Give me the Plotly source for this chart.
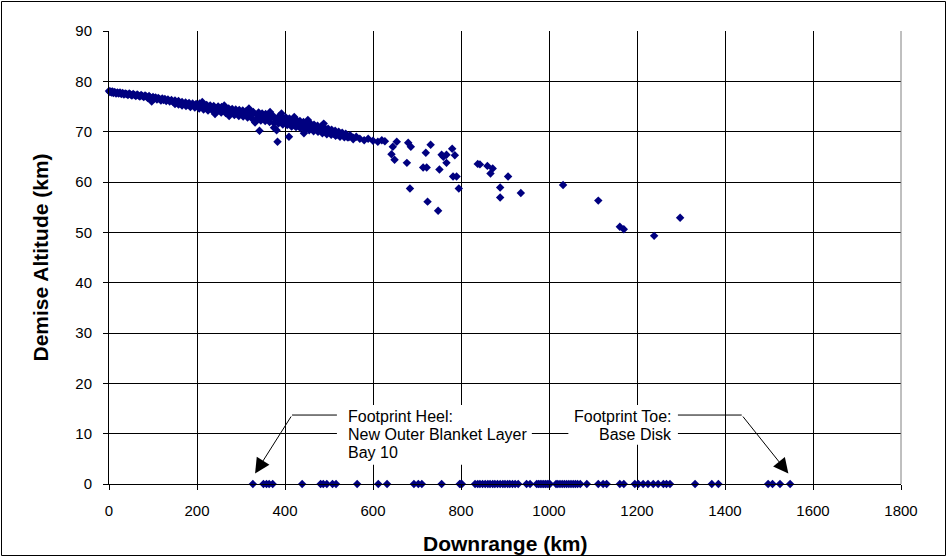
import plotly.graph_objects as go

# ---- data ----
# dense debris band + scattered fragments (downrange km, demise altitude km)
band_downrange = [0, 2, 4, 6, 8, 10, 13, 16, 19, 22, 25, 28, 31, 34, 37, 40, 43, 46, 49, 52,
                  55, 58, 61, 64, 67, 70, 73, 76, 79, 82, 85, 88, 91, 94, 97, 100, 103, 106, 109, 112,
                  115, 118, 121, 124, 127, 130, 134, 138, 142, 146, 150, 154, 158, 162, 166, 170, 174, 178, 182, 186,
                  190, 194, 198, 202, 206, 210, 214, 218, 222, 226, 230, 234, 238, 241, 244, 248, 252, 256, 260, 264,
                  268, 272, 273, 276, 280, 284, 288, 292, 296, 300, 304, 308, 312, 316, 320, 324, 328, 332, 336, 340,
                  342, 344, 348, 352, 356, 360, 364, 368, 372, 375, 378, 381, 383, 386, 390, 394, 398, 402, 406, 409,
                  410, 414, 418, 422, 426, 430, 434, 438, 442, 443, 446, 450, 454, 458, 462, 466, 470, 474, 478, 482,
                  486, 490, 494, 498, 502, 506, 510, 514, 518, 522, 526, 530, 534, 538, 542, 548, 555, 562, 570, 580,
                  589, 600, 611, 620, 627]
band_altitude = [78.1, 77.9, 78.0, 77.8, 78.0, 77.7, 77.9, 77.6, 77.8, 77.6, 77.8, 77.5, 77.7, 77.4, 77.6, 77.5, 77.3, 77.6, 77.4, 77.2,
                 77.5, 77.3, 77.1, 77.4, 77.2, 77.0, 77.3, 77.1, 76.9, 77.2, 77.0, 76.7, 77.1, 76.8, 76.0, 76.9, 76.6, 76.8, 76.4, 76.7,
                 76.5, 76.2, 76.6, 76.3, 76.5, 76.1, 76.4, 76.0, 76.3, 75.9, 76.2, 75.8, 76.1, 75.6, 75.9, 75.5, 75.8, 75.4, 75.7, 75.2,
                 75.6, 75.1, 75.5, 75.2, 75.6, 75.0, 75.4, 74.9, 75.3, 74.8, 75.2, 74.7, 75.1, 73.5, 74.6, 75.0, 74.5, 74.9, 74.3, 74.8,
                 74.2, 74.6, 73.1, 74.0, 74.5, 73.9, 74.4, 73.8, 74.3, 73.7, 74.2, 73.6, 74.1, 73.5, 74.0, 73.4, 73.9, 71.8, 73.3, 73.8,
                 70.2, 73.1, 73.6, 73.0, 73.5, 72.9, 73.4, 72.7, 73.2, 70.8, 72.5, 70.3, 68.0, 73.0, 72.3, 72.9, 72.2, 72.8, 72.0, 69.0,
                 72.6, 71.8, 72.4, 71.7, 72.3, 71.5, 72.1, 71.3, 71.9, 69.7, 71.2, 71.8, 71.0, 71.6, 70.8, 71.4, 70.6, 71.2, 70.4, 71.0,
                 70.2, 70.8, 70.0, 70.6, 69.8, 70.4, 69.6, 70.2, 69.4, 70.0, 69.3, 69.8, 69.1, 69.6, 68.9, 69.3, 68.8, 69.0, 68.6, 68.3,
                 68.6, 68.2, 68.0, 68.3, 68.1]

# lower / upper fringe of the band (makes it look as thick as in the reference)
fringe_downrange = [150, 158, 166, 175, 185, 195, 205, 215, 225, 235, 245, 255, 265, 275, 285, 295, 305, 315, 325, 335,
                    345, 355, 365, 375, 385, 395, 405, 415, 425, 435, 445, 455, 465, 475, 485, 495, 505, 515, 525, 535,
                    545, 555, 212, 262, 318, 366, 392, 421, 452, 488]
fringe_altitude = [75.5, 75.4, 75.2, 75.1, 74.9, 74.8, 74.6, 74.4, 74.2, 74.2, 74.0, 73.8, 73.7, 73.5, 73.3, 73.1, 73.0, 72.8, 72.6, 72.4,
                   72.2, 72.1, 71.9, 71.7, 71.6, 71.4, 71.3, 71.0, 70.9, 70.7, 70.5, 70.3, 70.1, 70.0, 69.7, 69.5, 69.4, 69.2, 69.0, 68.9,
                   68.9, 68.5, 75.9, 75.2, 74.6, 73.9, 73.6, 72.9, 72.3, 71.6]

scatter_downrange = [642, 645, 649, 654, 677, 680, 686, 684, 714, 720, 722, 724, 731, 748, 751, 756, 760, 767, 767, 780,
                     786, 782, 790, 795, 838, 843, 860, 872, 867, 889, 889, 907, 936, 1032, 1112, 1161, 1170, 1239, 1298]
scatter_altitude = [65.5, 67.0, 64.4, 68.0, 63.8, 67.8, 67.0, 58.7, 62.9, 65.8, 62.9, 56.1, 67.4, 54.3, 62.5, 65.4, 65.0, 65.4, 63.8, 66.6,
                    65.3, 61.1, 61.1, 58.7, 63.6, 63.5, 63.2, 62.7, 61.7, 58.9, 56.9, 61.1, 57.8, 59.4, 56.3, 51.1, 50.6, 49.3, 52.9]

# fragments that survive to the ground (altitude 0)
ground_downrange = [327, 351, 358, 364, 372, 439, 481, 487, 495, 508, 516, 564, 612, 632, 693, 703, 711, 756, 797, 800,
                    802, 832, 838, 843, 849, 855, 861, 866, 872, 877, 883, 889, 895, 900, 906, 911, 917, 923, 930, 949,
                    957, 972, 976, 980, 984, 988, 992, 996, 1000, 1002, 1016, 1020, 1025, 1030, 1035, 1040, 1045, 1050, 1055, 1060,
                    1065, 1071, 1086, 1112, 1123, 1131, 1161, 1170, 1195, 1203, 1214, 1225, 1237, 1248, 1260, 1267, 1275, 1332, 1370, 1385,
                    1498, 1508, 1525, 1548]
ground_altitude = [0] * len(ground_downrange)

x_ticks = [0, 200, 400, 600, 800, 1000, 1200, 1400, 1600, 1800]
y_ticks = [0, 10, 20, 30, 40, 50, 60, 70, 80, 90]

heel_lines = ["Footprint Heel:", "New Outer Blanket Layer", "Bay 10"]
toe_lines = ["Footprint Toe:", "Base Disk"]

FONT = "Arial, 'Liberation Sans', sans-serif"
NAVY = "#000080"

all_x = band_downrange + fringe_downrange + scatter_downrange + ground_downrange
all_y = band_altitude + fringe_altitude + scatter_altitude + ground_altitude

fig = go.Figure()
fig.add_trace(go.Scatter(
    x=all_x, y=all_y, mode="markers",
    marker=dict(symbol="diamond", size=6.5, color=NAVY, line=dict(width=0)),
    cliponaxis=False, showlegend=False, hoverinfo="x+y"))

W, H = 947, 557
L, R, T, B = 109, 46, 31, 73
PW, PH = W - L - R, H - T - B


def px_to_paper_x(px):
    return (px - L) / PW


def px_to_paper_y(py):
    return (H - B - py) / PH


shapes = []
# outer chart border
shapes.append(dict(type="rect", xref="paper", yref="paper",
                   x0=px_to_paper_x(1.5), x1=px_to_paper_x(945.5),
                   y0=px_to_paper_y(555.5), y1=px_to_paper_y(1.5),
                   line=dict(color="black", width=1), layer="above"))
# right plot border (gray)
shapes.append(dict(type="line", xref="paper", yref="paper", x0=1, x1=1, y0=0, y1=1,
                   line=dict(color="#808080", width=1), layer="above"))
# white boxes behind callout texts
shapes.append(dict(type="rect", xref="x", yref="y", x0=518, x1=961, y0=3.8, y1=15.7,
                   fillcolor="white", line=dict(width=0), layer="above"))
shapes.append(dict(type="rect", xref="x", yref="y", x0=1044, x1=1293, y0=7.8, y1=15.7,
                   fillcolor="white", line=dict(width=0), layer="above"))
# horizontal leader segments
shapes.append(dict(type="line", xref="x", yref="y", x0=416, x1=518, y0=13.7, y1=13.7,
                   line=dict(color="black", width=1), layer="above"))
shapes.append(dict(type="line", xref="x", yref="y", x0=1293, x1=1438, y0=13.7, y1=13.7,
                   line=dict(color="black", width=1), layer="above"))

annotations = []
# arrows
annotations.append(dict(x=332, y=2.1, ax=416, ay=13.7, xref="x", yref="y", axref="x", ayref="y",
                        text="", showarrow=True, arrowhead=2, arrowsize=3, arrowwidth=1, arrowcolor="black"))
annotations.append(dict(x=1544, y=2.1, ax=1438, ay=13.7, xref="x", yref="y", axref="x", ayref="y",
                        text="", showarrow=True, arrowhead=2, arrowsize=3, arrowwidth=1, arrowcolor="black"))
# heel text (left aligned), one line per annotation
for i, t in enumerate(heel_lines):
    annotations.append(dict(x=px_to_paper_x(346), y=px_to_paper_y(416.5 + 18 * i), xref="paper", yref="paper",
                            text=t, showarrow=False, xanchor="left", yanchor="middle",
                            font=dict(family=FONT, size=16, color="black")))
for i, t in enumerate(toe_lines):
    annotations.append(dict(x=px_to_paper_x(674), y=px_to_paper_y(416.5 + 18 * i), xref="paper", yref="paper",
                            text=t, showarrow=False, xanchor="right", yanchor="middle",
                            font=dict(family=FONT, size=16, color="black")))
# axis titles
annotations.append(dict(x=px_to_paper_x(40), y=0.5, xref="paper", yref="paper",
                        text="<b>Demise Altitude (km)</b>", textangle=-90, showarrow=False,
                        xanchor="center", yanchor="middle",
                        font=dict(family=FONT, size=21, color="black")))
annotations.append(dict(x=0.5, y=px_to_paper_y(543), xref="paper", yref="paper",
                        text="<b>Downrange (km)</b>", showarrow=False,
                        xanchor="center", yanchor="middle",
                        font=dict(family=FONT, size=21, color="black")))

axis_common = dict(showgrid=True, gridcolor="black", gridwidth=1, showline=True, linecolor="black",
                   linewidth=1, ticks="outside", ticklen=5, tickcolor="black", tickwidth=1,
                   zeroline=False, tickfont=dict(family=FONT, size=15, color="black"), fixedrange=True)

fig.update_layout(
    width=W, height=H,
    margin=dict(l=L, r=R, t=T, b=B, pad=0),
    paper_bgcolor="white", plot_bgcolor="white",
    xaxis=dict(range=[0, 1800], tickvals=x_ticks, ticktext=[str(v) for v in x_ticks],
               ticklabelstandoff=8, **axis_common),
    yaxis=dict(range=[0, 90], tickvals=y_ticks, ticktext=[str(v) for v in y_ticks],
               ticklabelstandoff=8, **axis_common),
    shapes=shapes, annotations=annotations, showlegend=False,
)

fig.write_html("out.html", config={"displayModeBar": False},
               post_script="document.body.style.margin='0';")
